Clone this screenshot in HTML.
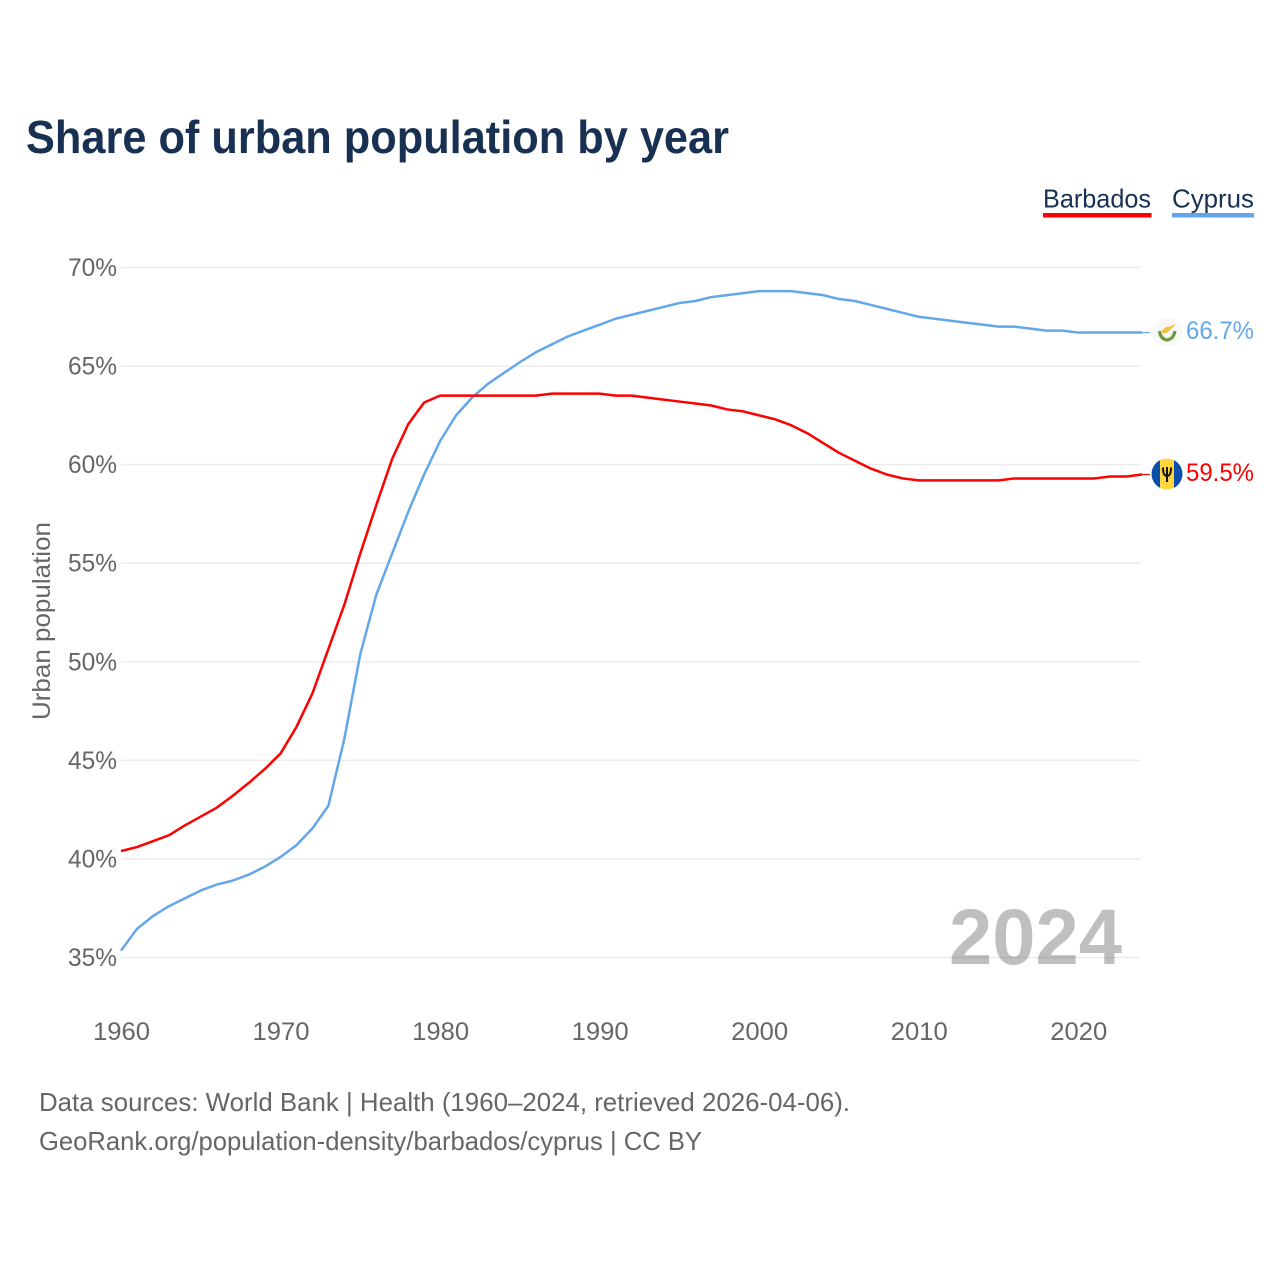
<!DOCTYPE html>
<html lang="en">
<head>
<meta charset="utf-8">
<title>Share of urban population by year</title>
<style>
html,body{margin:0;padding:0;background:#fff;width:1280px;height:1280px;overflow:hidden}
svg{display:block;font-family:"Liberation Sans",sans-serif}
</style>
</head>
<body>
<svg id="chart" xmlns="http://www.w3.org/2000/svg" width="1280" height="1280" viewBox="0 0 1280 1280">
  <rect width="1280" height="1280" fill="#ffffff"/>
  <text x="26" y="153" font-size="46" font-weight="700" fill="#183153" textLength="703" lengthAdjust="spacingAndGlyphs">Share of urban population by year</text>

  <g>
    <g>
      <text x="1043" y="207.500" font-size="26" fill="#183153" textLength="108" lengthAdjust="spacingAndGlyphs">Barbados</text>
      <rect x="1043" y="213" width="108.500" height="4.500" fill="#ff0000"/>
    </g>
    <g>
      <text x="1172" y="207.500" font-size="26" fill="#183153" textLength="82" lengthAdjust="spacingAndGlyphs">Cyprus</text>
      <rect x="1172" y="213" width="82" height="4.500" fill="#63a7ea"/>
    </g>
  </g>

  <g id="grid"></g>
  <g id="yTicks"></g>
  <g id="xTicks"></g>
  <text transform="translate(50,621) rotate(-90)" text-anchor="middle" font-size="25" fill="#666666" textLength="198" lengthAdjust="spacingAndGlyphs">Urban population</text>

  <text x="1122" y="964" text-anchor="end" font-size="79" font-weight="700" fill="#000000" fill-opacity="0.25" textLength="173" lengthAdjust="spacingAndGlyphs">2024</text>

  <g id="series"></g>

  <g id="flagCyprus">
    <circle cx="1167" cy="332" r="15" fill="#f8f8f8"/>
    <path d="M1161.500 331 L1166 327 L1170 326.500 L1175.500 323.500 L1173.500 327 L1170 330 L1166.500 333 L1163 333.500 Z" fill="#f2c23c"/>
    <path d="M1159.500 331 Q1160.500 339 1167 340 Q1173.500 339 1175 331" fill="none" stroke="#6f9a3c" stroke-width="3.200"/>
  </g>
  <g id="flagBarbados">
    <clipPath id="bbClip"><circle cx="1167" cy="474" r="15.500"/></clipPath>
    <g clip-path="url(#bbClip)">
      <rect x="1151" y="458" width="9" height="32" fill="#0a4fae"/>
      <rect x="1160" y="458" width="14" height="32" fill="#ffd53d"/>
      <rect x="1174" y="458" width="9" height="32" fill="#0a4fae"/>
    </g>
    <path d="M1167 467 V482 M1163 467.500 Q1163 476 1167 476 Q1171 476 1171 467.500" fill="none" stroke="#111111" stroke-width="2"/>
  </g>
  <text x="1254" y="339" text-anchor="end" font-size="25" fill="#63a7ea" textLength="68" lengthAdjust="spacingAndGlyphs">66.7%</text>
  <text x="1254" y="481" text-anchor="end" font-size="25" fill="#ff0000" textLength="68" lengthAdjust="spacingAndGlyphs">59.5%</text>

  <text x="39" y="1111" font-size="26" fill="#666666" textLength="811" lengthAdjust="spacingAndGlyphs">Data sources: World Bank | Health (1960–2024, retrieved 2026-04-06).</text>
  <text x="39" y="1150" font-size="26" fill="#666666" textLength="663" lengthAdjust="spacingAndGlyphs">GeoRank.org/population-density/barbados/cyprus | CC BY</text>
</svg>
<script>
const firstYear = 1960;
const xTickYears = [1960, 1970, 1980, 1990, 2000, 2010, 2020];
const yTickValues = [35, 40, 45, 50, 55, 60, 65, 70];
const barbadosValues = [40.4,40.6,40.9,41.2,41.7,42.15,42.6,43.2,43.85,44.55,45.35,46.7,48.4,50.65,52.9,55.5,57.95,60.3,62.05,63.15,63.5,63.5,63.5,63.5,63.5,63.5,63.5,63.6,63.6,63.6,63.6,63.5,63.5,63.4,63.3,63.2,63.1,63.0,62.8,62.7,62.5,62.3,62.0,61.6,61.1,60.6,60.2,59.8,59.5,59.3,59.2,59.2,59.2,59.2,59.2,59.2,59.3,59.3,59.3,59.3,59.3,59.3,59.4,59.4,59.5];
const cyprusValues = [35.35,36.45,37.1,37.6,38.0,38.4,38.7,38.9,39.2,39.6,40.1,40.7,41.55,42.7,46.1,50.4,53.4,55.5,57.6,59.5,61.2,62.5,63.4,64.1,64.65,65.2,65.7,66.1,66.5,66.8,67.1,67.4,67.6,67.8,68.0,68.2,68.3,68.5,68.6,68.7,68.8,68.8,68.8,68.7,68.6,68.4,68.3,68.1,67.9,67.7,67.5,67.4,67.3,67.2,67.1,67.0,67.0,66.9,66.8,66.8,66.7,66.7,66.7,66.7,66.7];

const NS = 'http://www.w3.org/2000/svg';
function xScale(year) { return 121 + (year - 1960) * 15.955; }
function yScale(value) { return 267.5 + (70 - value) * 19.714; }

const grid = document.getElementById('grid');
const yTicks = document.getElementById('yTicks');
const xTicks = document.getElementById('xTicks');
const series = document.getElementById('series');

yTickValues.forEach(function (v) {
  const line = document.createElementNS(NS, 'line');
  
  
  line.setAttribute('x1', 121);
  line.setAttribute('x2', 1141);
  line.setAttribute('y1', yScale(v));
  line.setAttribute('y2', yScale(v));
  line.setAttribute('stroke', '#ececec');
  line.setAttribute('stroke-width', '1.500');
  grid.appendChild(line);

  const label = document.createElementNS(NS, 'text');
  
  
  label.setAttribute('x', 117);
  label.setAttribute('y', yScale(v) + 8.5);
  label.setAttribute('text-anchor', 'end');
  label.setAttribute('font-size', '25');
  label.setAttribute('fill', '#666666');
  label.setAttribute('textLength', '49');
  label.setAttribute('lengthAdjust', 'spacingAndGlyphs');
  label.textContent = v + '%';
  yTicks.appendChild(label);
});

xTickYears.forEach(function (year) {
  const label = document.createElementNS(NS, 'text');
  
  
  label.setAttribute('x', xScale(year) + 0.5);
  label.setAttribute('y', 1040);
  label.setAttribute('text-anchor', 'middle');
  label.setAttribute('font-size', '25');
  label.setAttribute('fill', '#666666');
  label.setAttribute('textLength', '57');
  label.setAttribute('lengthAdjust', 'spacingAndGlyphs');
  label.textContent = year;
  xTicks.appendChild(label);
});

function drawSeries(values, color, name) {
  const points = values.map(function (v, i) {
    return xScale(firstYear + i).toFixed(2) + ',' + yScale(v).toFixed(2);
  });
  const path = document.createElementNS(NS, 'polyline');
  
  
  path.setAttribute('points', points.join(' '));
  path.setAttribute('fill', 'none');
  path.setAttribute('stroke', color);
  path.setAttribute('stroke-width', '2.500');
  path.setAttribute('stroke-linejoin', 'round');
  series.appendChild(path);

  const lastIndex = values.length - 1;
  const connector = document.createElementNS(NS, 'line');
  
  
  connector.setAttribute('x1', xScale(firstYear + lastIndex));
  connector.setAttribute('x2', 1150);
  connector.setAttribute('y1', yScale(values[lastIndex]));
  connector.setAttribute('y2', yScale(values[lastIndex]));
  connector.setAttribute('stroke', color);
  connector.setAttribute('stroke-width', '1.200');
  series.appendChild(connector);
}
drawSeries(cyprusValues, '#63a7ea', 'line-cyprus');
drawSeries(barbadosValues, '#ff0000', 'line-barbados');
</script>
</body>
</html>
